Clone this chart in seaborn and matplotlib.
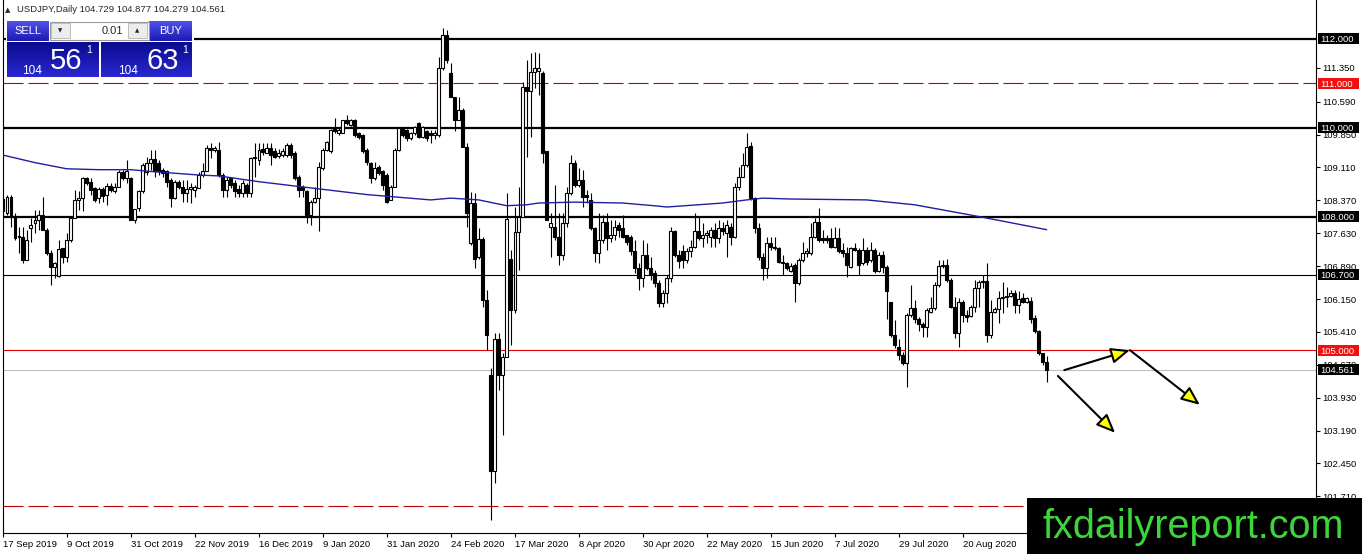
import numpy as np
import matplotlib
matplotlib.use('Agg')
import matplotlib.pyplot as plt
import seaborn as sns
from matplotlib.patches import Rectangle, FancyArrowPatch
from matplotlib.colors import LinearSegmentedColormap

# USDJPY daily bars, bar 0 = 17 Sep 2019
opens = [
    108.40, 108.08, 108.45, 108.00, 107.57, 107.55, 107.03, 107.74, 107.85, 107.93,
    108.04, 107.70, 107.18, 106.88, 106.67, 107.29, 107.10, 107.48, 107.97, 108.38,
    108.42, 108.87, 108.79, 108.64, 108.42, 108.62, 108.49, 108.69, 108.57, 108.68,
    109.00, 108.87, 108.87, 107.93, 108.19, 108.57, 109.00, 109.20, 109.29, 109.20,
    109.05, 109.02, 108.83, 108.42, 108.79, 108.68, 108.53, 108.62, 108.60, 108.64,
    108.94, 109.02, 109.54, 109.50, 109.50, 108.94, 108.60, 108.87, 108.75, 108.62,
    108.53, 108.72, 108.53, 109.32, 109.28, 109.52, 109.44, 109.54, 109.47, 109.37,
    109.39, 109.39, 109.62, 109.43, 108.90, 108.68, 108.57, 108.04, 108.34, 108.42,
    109.09, 109.50, 109.47, 110.01, 109.88, 109.88, 110.18, 110.07, 110.18, 109.88,
    109.84, 109.50, 109.20, 108.87, 109.13, 109.02, 108.94, 108.38, 108.68, 109.50,
    109.99, 109.95, 109.77, 109.88, 110.10, 109.80, 109.92, 109.88, 109.84, 109.84,
    111.34, 112.09, 111.23, 110.70, 110.18, 110.40, 109.58, 107.40, 108.30, 107.10,
    107.51, 106.13, 104.44, 102.27, 105.26, 104.44, 104.85, 107.06, 105.90, 107.66,
    108.00, 110.93, 110.82, 111.26, 111.27, 111.23, 109.47, 107.78, 107.78, 107.55,
    107.14, 107.85, 108.53, 109.20, 108.72, 108.83, 108.49, 108.38, 107.74, 107.18,
    107.48, 107.89, 107.52, 107.59, 107.82, 107.74, 107.59, 107.55, 107.22, 106.84,
    106.62, 107.14, 106.84, 106.73, 106.50, 106.05, 106.28, 106.62, 107.67, 107.14,
    107.22, 107.03, 107.22, 107.33, 107.67, 107.52, 107.59, 107.55, 107.70, 107.52,
    107.74, 107.63, 107.78, 107.55, 108.68, 108.90, 109.17, 109.59, 108.42, 107.74,
    107.10, 106.84, 107.40, 107.33, 107.29, 106.99, 106.95, 106.78, 106.92, 106.50,
    107.03, 107.18, 107.18, 107.55, 107.89, 107.52, 107.52, 107.52, 107.33, 107.52,
    107.25, 107.18, 106.88, 107.29, 107.25, 106.95, 107.25, 107.03, 107.25, 106.77,
    107.14, 106.88, 106.09, 105.34, 105.08, 104.89, 104.70, 105.79, 105.94, 105.69,
    105.59, 105.51, 105.86, 105.94, 106.47, 106.89, 106.92, 106.58, 105.98, 105.38,
    106.09, 105.79, 105.77, 105.98, 106.39, 106.54, 106.56, 105.34, 105.86, 105.92,
    106.17, 106.20, 106.22, 106.28, 106.02, 106.17, 106.09, 106.11, 105.72, 105.42,
    104.93, 104.729,
]
highs = [
    108.49, 108.49, 108.49, 108.08, 107.78, 107.78, 107.70, 107.97, 108.15, 108.15,
    108.45, 107.74, 107.25, 106.99, 107.48, 107.30, 107.63, 108.00, 108.60, 108.57,
    108.90, 108.90, 108.87, 108.68, 108.68, 108.68, 108.75, 108.75, 108.75, 109.05,
    109.05, 109.28, 108.90, 108.17, 108.60, 109.20, 109.35, 109.50, 109.50, 109.28,
    109.10, 109.05, 108.87, 108.83, 108.83, 108.83, 108.83, 108.75, 108.72, 109.00,
    109.20, 109.62, 109.65, 109.60, 109.69, 108.98, 108.90, 108.90, 108.83, 108.72,
    108.83, 108.75, 109.35, 109.65, 109.65, 109.65, 109.65, 109.65, 109.54, 109.52,
    109.54, 109.65, 109.65, 109.47, 108.94, 108.72, 108.60, 108.38, 108.68, 109.24,
    109.54, 109.70, 109.97, 110.22, 110.00, 110.18, 110.29, 110.20, 110.20, 109.90,
    109.86, 109.55, 109.24, 109.24, 109.16, 109.05, 108.98, 108.72, 109.54, 109.99,
    110.00, 109.97, 109.90, 110.05, 110.14, 110.05, 109.95, 109.95, 109.95, 111.60,
    112.24, 112.20, 111.45, 110.70, 110.70, 110.44, 109.65, 108.56, 108.53, 107.74,
    107.55, 106.35, 104.59, 105.38, 105.38, 104.93, 108.53, 107.25, 108.23, 108.68,
    111.04, 111.53, 111.68, 111.71, 111.68, 111.27, 109.47, 108.08, 108.72, 108.08,
    108.08, 108.68, 109.39, 109.28, 109.09, 109.05, 108.60, 108.53, 107.78, 108.08,
    108.04, 108.08, 107.93, 107.93, 107.89, 108.04, 107.59, 107.59, 107.48, 106.95,
    107.48, 107.40, 107.10, 106.80, 106.58, 106.35, 106.69, 107.78, 107.70, 107.25,
    107.37, 107.29, 107.48, 108.08, 108.00, 107.85, 107.70, 107.78, 107.85, 107.93,
    107.89, 107.93, 107.85, 108.75, 109.13, 109.43, 109.88, 109.69, 108.45, 107.85,
    107.18, 107.55, 107.55, 107.55, 107.33, 107.14, 106.99, 106.95, 106.95, 107.07,
    107.44, 107.30, 107.85, 107.97, 108.19, 107.70, 107.59, 107.74, 107.78, 107.74,
    107.40, 107.33, 107.33, 107.40, 107.29, 107.52, 107.33, 107.44, 107.29, 107.20,
    107.22, 106.92, 106.09, 105.68, 105.26, 104.96, 105.83, 106.47, 106.13, 105.75,
    105.64, 105.94, 106.20, 106.54, 107.03, 107.03, 107.04, 106.62, 106.20, 106.17,
    106.13, 105.90, 106.02, 106.58, 106.58, 106.69, 106.95, 106.13, 105.96, 106.32,
    106.54, 106.43, 106.35, 106.35, 106.32, 106.28, 106.20, 106.20, 105.79, 105.45,
    104.93, 104.877,
]
lows = [
    108.04, 108.04, 107.78, 107.48, 107.18, 106.95, 107.03, 107.44, 107.63, 107.70,
    107.70, 107.14, 106.47, 106.62, 106.65, 106.95, 106.99, 107.44, 107.97, 108.15,
    108.12, 108.72, 108.49, 108.34, 108.30, 108.34, 108.27, 108.55, 108.53, 108.68,
    108.83, 108.75, 107.93, 107.85, 108.12, 108.53, 108.95, 109.05, 108.90, 108.95,
    108.90, 108.68, 108.23, 108.40, 108.62, 108.34, 108.34, 108.30, 108.45, 108.64,
    108.90, 109.02, 109.32, 109.45, 108.90, 108.45, 108.45, 108.64, 108.45, 108.45,
    108.45, 108.45, 108.45, 108.90, 109.17, 109.39, 109.43, 109.17, 109.32, 109.32,
    109.35, 109.35, 109.32, 108.83, 108.45, 108.45, 107.85, 107.82, 108.30, 107.67,
    109.05, 109.47, 109.43, 109.88, 109.85, 109.88, 110.07, 110.05, 109.80, 109.75,
    109.44, 109.17, 108.75, 108.83, 108.95, 108.60, 108.30, 108.38, 108.68, 109.47,
    109.80, 109.70, 109.72, 109.85, 109.77, 109.78, 109.70, 109.65, 109.75, 109.80,
    111.30, 111.45, 110.70, 109.92, 110.18, 109.58, 107.78, 107.36, 106.84, 107.06,
    105.98, 105.00, 101.18, 102.00, 104.10, 103.09, 104.85, 105.11, 105.83, 106.80,
    108.00, 109.35, 109.80, 110.90, 110.74, 109.20, 107.93, 107.10, 107.48, 106.92,
    107.03, 107.78, 108.49, 108.68, 108.68, 108.23, 108.30, 107.70, 106.99, 106.95,
    107.40, 107.25, 107.44, 107.48, 107.55, 107.52, 107.37, 107.14, 106.73, 106.35,
    106.43, 106.80, 106.58, 106.43, 105.98, 105.98, 106.05, 106.54, 107.10, 106.84,
    106.84, 106.95, 107.10, 107.29, 107.48, 107.33, 107.40, 107.33, 107.33, 107.40,
    107.59, 107.10, 107.37, 107.52, 108.60, 108.90, 109.13, 108.38, 107.63, 107.03,
    106.58, 106.62, 107.25, 107.25, 106.95, 106.69, 106.80, 106.75, 106.09, 106.47,
    106.99, 107.10, 107.14, 107.52, 107.44, 107.40, 107.40, 107.29, 107.29, 107.18,
    107.10, 106.65, 106.84, 107.22, 106.69, 106.92, 106.92, 106.99, 106.73, 106.75,
    106.73, 105.71, 105.30, 105.04, 104.78, 104.67, 104.18, 105.75, 105.60, 105.42,
    105.30, 105.30, 105.83, 105.90, 106.43, 106.84, 106.54, 105.94, 105.27, 105.08,
    105.64, 105.64, 105.75, 105.86, 105.98, 106.40, 105.19, 105.27, 105.83, 105.60,
    105.83, 105.98, 106.20, 105.83, 105.83, 106.05, 106.07, 105.60, 105.38, 104.89,
    104.66, 104.279,
]
closes = [
    108.12, 108.45, 108.00, 107.52, 107.54, 107.03, 107.48, 107.82, 107.93, 108.04,
    107.70, 107.18, 106.88, 106.95, 107.27, 107.10, 107.48, 107.97, 108.38, 108.42,
    108.87, 108.75, 108.60, 108.38, 108.62, 108.47, 108.69, 108.60, 108.68, 109.00,
    108.87, 109.02, 107.93, 108.17, 108.57, 109.17, 109.20, 109.29, 109.02, 109.02,
    108.98, 108.79, 108.42, 108.79, 108.68, 108.53, 108.62, 108.66, 108.66, 108.94,
    109.02, 109.54, 109.50, 109.54, 108.94, 108.60, 108.83, 108.72, 108.57, 108.53,
    108.75, 108.53, 109.32, 109.35, 109.50, 109.45, 109.54, 109.39, 109.35, 109.44,
    109.47, 109.62, 109.39, 108.87, 108.60, 108.60, 108.04, 108.34, 108.42, 109.13,
    109.50, 109.69, 109.95, 109.92, 109.95, 110.18, 110.10, 110.18, 109.84, 109.80,
    109.47, 109.24, 108.87, 109.09, 108.98, 108.72, 108.34, 108.68, 109.50, 109.99,
    109.84, 109.77, 109.88, 110.03, 109.80, 110.03, 109.77, 109.84, 109.88, 111.34,
    112.09, 111.53, 110.70, 110.18, 110.40, 109.58, 108.08, 108.30, 107.06, 107.51,
    106.13, 105.34, 102.27, 105.26, 104.44, 104.85, 107.96, 105.90, 107.66, 108.00,
    110.93, 110.82, 111.26, 111.34, 111.34, 109.43, 107.93, 107.85, 107.55, 107.14,
    107.85, 108.53, 109.20, 108.72, 108.83, 108.45, 108.45, 107.74, 107.18, 107.48,
    107.89, 107.52, 107.59, 107.78, 107.70, 107.55, 107.44, 107.22, 106.84, 106.62,
    107.14, 106.84, 106.69, 106.50, 106.05, 106.28, 106.62, 107.67, 107.14, 107.00,
    107.03, 107.22, 107.33, 107.67, 107.52, 107.59, 107.63, 107.70, 107.52, 107.74,
    107.67, 107.82, 107.55, 108.68, 108.90, 109.17, 109.58, 108.42, 107.74, 107.10,
    106.84, 107.40, 107.33, 107.29, 106.99, 106.95, 106.84, 106.89, 106.50, 107.03,
    107.18, 107.22, 107.55, 107.89, 107.48, 107.48, 107.48, 107.33, 107.52, 107.22,
    107.18, 106.92, 107.29, 107.25, 106.92, 107.25, 106.99, 107.25, 106.77, 107.14,
    106.88, 106.32, 105.34, 105.11, 104.89, 104.70, 105.79, 105.94, 105.69, 105.59,
    105.51, 105.90, 105.94, 106.47, 106.89, 106.92, 106.58, 105.98, 105.38, 106.09,
    105.79, 105.75, 105.96, 106.39, 106.54, 106.56, 105.34, 105.86, 105.92, 106.17,
    106.20, 106.22, 106.28, 106.02, 106.14, 106.09, 106.17, 105.69, 105.42, 104.93,
    104.74, 104.561,
]

# blue moving average, read at a few bars
ma_bar = [0, 8, 16, 24, 32, 37, 49, 54, 64, 77, 91, 107, 112, 119, 126,
          131, 134, 143, 155, 164, 166, 180, 186, 190, 197, 216, 228, 242, 249, 261]
ma_val = [109.39, 109.22, 109.08, 109.06, 109.06, 109.02, 108.94, 108.92, 108.79, 108.65,
          108.50, 108.38, 108.42, 108.38, 108.25, 108.27, 108.31, 108.33, 108.31, 108.24,
          108.22, 108.31, 108.38, 108.42, 108.40, 108.38, 108.27, 108.04, 107.92, 107.71]

date_labels = ['17 Sep 2019', '9 Oct 2019', '31 Oct 2019', '22 Nov 2019', '16 Dec 2019',
               '9 Jan 2020', '31 Jan 2020', '24 Feb 2020', '17 Mar 2020', '8 Apr 2020',
               '30 Apr 2020', '22 May 2020', '15 Jun 2020', '7 Jul 2020', '29 Jul 2020',
               '20 Aug 2020']
price_ticks = [101.71, 102.45, 103.19, 103.93, 104.67, 105.41, 106.15, 106.89,
               107.63, 108.37, 109.11, 109.85, 110.59, 111.35]

black_levels = [112.0, 110.0, 108.0]
thin_level = 106.7
red_level = 105.0
dashed_levels = [111.0, 101.5]

# hand-drawn arrows (bar, price)
arrows = [((265.4, 104.55), (281.8, 105.00)),
          ((281.8, 105.00), (299.3, 103.77)),
          ((263.8, 104.42), (278.1, 103.14))]

sns.set_style('white')
plt.rcParams['font.family'] = ['Liberation Sans', 'DejaVu Sans']

W, H = 1362, 554
fig = plt.figure(figsize=(W / 100, H / 100), dpi=100)
fig.patch.set_facecolor('white')

ax = fig.add_axes([2.7 / W, 1 - 532.7 / H, (1316 - 2.7) / W, 532.7 / H])
ax.set_facecolor('white')
ax.set_xlim(0, (1316 - 2.7) / 4)
ax.set_ylim(112 - (532.7 - 39) / 44.45, 112 + 39 / 44.45)

o, h, l, c = map(np.array, (opens, highs, lows, closes))
idx = np.arange(len(c))
up = c >= o

# levels
for lv in black_levels:
    ax.axhline(lv, color='black', lw=1.6, zorder=1)
ax.axhline(thin_level, color='black', lw=0.8, zorder=1)
ax.axhline(red_level, color='#e00000', lw=0.8, zorder=1)
for lv in dashed_levels:
    ax.axhline(lv, color='#c00000', lw=0.8, ls=(0, (18, 4.5)), zorder=1)
ax.axhline(c[-1], color='#c0c0c0', lw=0.8, zorder=1)

# candles
ax.vlines(idx, l, h, colors='black', linewidth=0.8, zorder=3)
ax.bar(idx[up], c[up] - o[up], bottom=o[up], width=0.6, color='white',
       edgecolor='black', linewidth=0.8, zorder=4)
ax.bar(idx[~up], o[~up] - c[~up], bottom=c[~up], width=0.6, color='black',
       edgecolor='black', linewidth=0.8, zorder=4)

sns.lineplot(x=ma_bar, y=ma_val, ax=ax, color='#1f1fa0', linewidth=1.0, zorder=5)

for a, b in arrows:
    ax.add_patch(FancyArrowPatch(a, b, arrowstyle='-|>,head_length=0.95,head_width=0.4',
                                 mutation_scale=12, shrinkA=0, shrinkB=0,
                                 fc='#ffff00', ec='black', lw=1.5, zorder=6))

# axes styling, MT4 like
for s in ['left', 'bottom', 'right']:
    ax.spines[s].set_visible(True)
    ax.spines[s].set_color('black')
    ax.spines[s].set_linewidth(0.8)
ax.spines['top'].set_visible(False)
ax.set_xticks(np.arange(len(date_labels)) * 16)
ax.set_xticklabels(date_labels, ha='left')
ax.yaxis.tick_right()
ax.set_yticks(price_ticks)
ax.set_yticklabels([f'{t:.3f}' for t in price_ticks])
ax.tick_params(axis='x', bottom=True, direction='out', length=3, width=0.8, pad=2,
               labelsize=6.8, colors='black')
ax.tick_params(axis='y', right=True, left=False, direction='out', length=3, width=0.8,
               pad=1.5, labelsize=6.8, colors='black')
ax.set_xlabel('')
ax.set_ylabel('')
ax.grid(False)

# overlay in pixel coordinates
ov = fig.add_axes([0, 0, 1, 1], zorder=10)
ov.patch.set_alpha(0)


def ypix(p):
    return H - ax.transData.transform((0, p))[1]


def grad_box(x0, y0, x1, y1, top, bottom):
    cm = LinearSegmentedColormap.from_list('g', [top, bottom])
    ov.imshow(np.linspace(0, 1, 32).reshape(-1, 1), extent=(x0, x1, y1, y0), cmap=cm,
              aspect='auto', interpolation='bilinear', zorder=1)


# price labels on the right scale
for p, fc in [(112.0, 'black'), (111.0, '#f01010'), (110.0, 'black'), (108.0, 'black'),
              (thin_level, 'black'), (red_level, '#f01010'), (c[-1], 'black')]:
    yp = ypix(p)
    ov.add_patch(Rectangle((1317.5, yp - 5.5), 41, 11, fc=fc, ec='none', zorder=2))
    ov.text(1320, yp, f'{p:.3f}', color='white', fontsize=6.8, ha='left',
            va='center_baseline', zorder=3)

# header
ov.text(5, 10, '\u25b2', fontsize=5, family='DejaVu Sans', va='center', ha='left')
ov.text(17, 10, f'USDJPY,Daily {o[-1]:.3f} {h[-1]:.3f} {l[-1]:.3f} {c[-1]:.3f}',
        fontsize=6.8, va='center', ha='left')

# one-click trading panel
ov.add_patch(Rectangle((6, 19), 188, 60, fc='white', ec='none', zorder=0.5))
grad_box(7, 21, 49, 41, '#5252ea', '#1a1ab4')
grad_box(149, 21, 192, 41, '#5252ea', '#1a1ab4')
ov.text(28, 31, 'SELL', color='white', fontsize=8, ha='center', va='center', zorder=3)
ov.text(170.5, 31, 'BUY', color='white', fontsize=8, ha='center', va='center', zorder=3)
ov.add_patch(Rectangle((49.5, 21.5), 99, 18.5, fc='white', ec='#9a9a9a', lw=0.8, zorder=2))
ov.add_patch(Rectangle((51, 23), 19, 15, fc='#ececec', ec='#b4b4b4', lw=0.6, zorder=3))
ov.add_patch(Rectangle((128, 23), 19, 15, fc='#ececec', ec='#b4b4b4', lw=0.6, zorder=3))
ov.text(60.5, 30.5, '\u25bc', fontsize=4, family='DejaVu Sans', ha='center', va='center', zorder=4)
ov.text(137.5, 30.5, '\u25b2', fontsize=4, family='DejaVu Sans', ha='center', va='center', zorder=4)
ov.text(123, 31, '0.01', fontsize=8, ha='right', va='center', zorder=4)
grad_box(7, 42, 99, 77, '#0b0b90', '#2828d0')
grad_box(101, 42, 192, 77, '#0b0b90', '#2828d0')
for x0, big in [(22, '56'), (118, '63')]:
    ov.text(x0, 74, '104', color='white', fontsize=8.5, ha='left', va='baseline', zorder=3)
    ov.text(x0 + 28, 69, big, color='white', fontsize=21, ha='left', va='baseline', zorder=3)
    ov.text(x0 + 64, 53, '1', color='white', fontsize=7.5, ha='left', va='baseline', zorder=3)

# watermark
ov.add_patch(Rectangle((1027, 497.5), W - 1027, H - 497.5, fc='black', ec='none', zorder=2))
ov.text(1193, 523, 'fxdailyreport.com', color='#3dd63a', fontsize=28.5, ha='center',
        va='center_baseline', zorder=3)

ov.set_xlim(0, W)
ov.set_ylim(H, 0)
ov.axis('off')

fig.savefig('out.png', dpi=100)
